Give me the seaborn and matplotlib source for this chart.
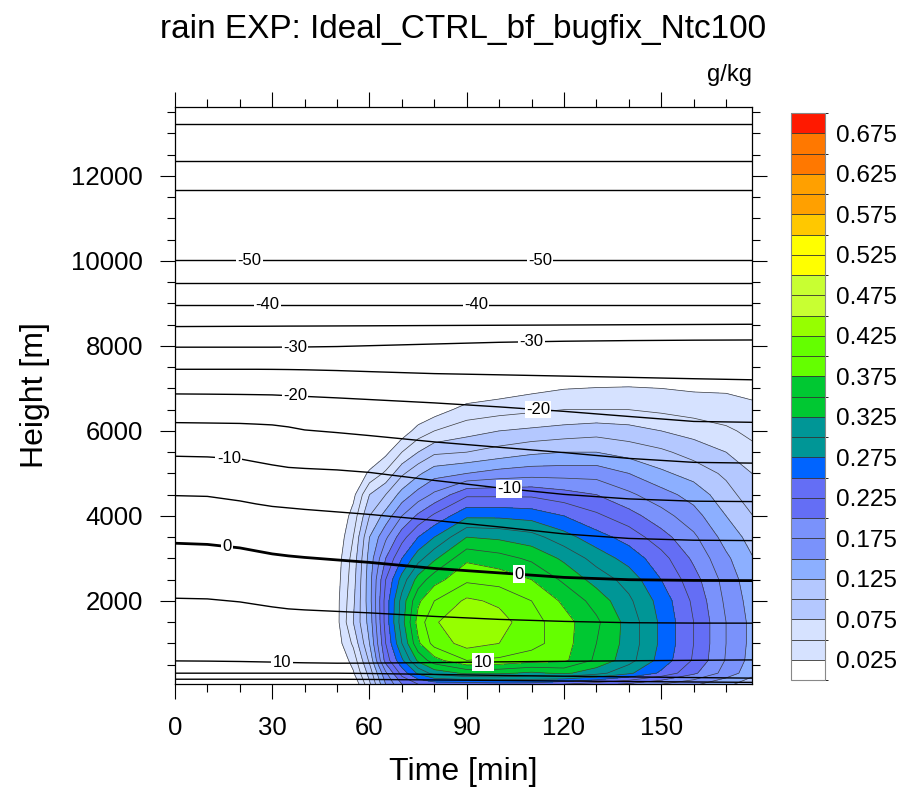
import numpy as np
import matplotlib
matplotlib.use("Agg")
import matplotlib.pyplot as plt
import seaborn as sns
from matplotlib.colors import ListedColormap, BoundaryNorm
from matplotlib.cm import ScalarMappable
from matplotlib.ticker import MultipleLocator

# ---------- STYLE ----------
sns.set_style("white")
plt.rcParams['font.family'] = ['Liberation Sans', 'DejaVu Sans']
plt.rcParams['text.color'] = 'black'
plt.rcParams['xtick.color'] = 'black'
plt.rcParams['ytick.color'] = 'black'

# ---------- RAIN MIXING RATIO (g/kg) ----------
rain_time = [0, 45, 50, 55, 60, 65, 70, 75, 80, 90, 100, 110, 120, 130, 140, 150, 160, 170, 180]
rain_height = [40, 300, 600, 1000, 1500, 2000, 2500, 3000, 3500, 4000, 4500,
               5000, 5500, 6000, 6500, 7000, 7500, 13600]
rain_qr = [
    [0, 0, 0, 0, 0.07, 0.15, 0.2, 0.225, 0.235, 0.235, 0.24, 0.24, 0.225, 0.21, 0.195, 0.175, 0.155, 0.13, 0.11],
    [0, 0, 0, 0.022, 0.085, 0.17, 0.235, 0.28, 0.31, 0.33, 0.33, 0.32, 0.33, 0.31, 0.28, 0.245, 0.205, 0.165, 0.127],
    [0, 0, 0, 0.035, 0.105, 0.21, 0.27, 0.33, 0.365, 0.4, 0.395, 0.385, 0.38, 0.345, 0.31, 0.265, 0.222, 0.173, 0.133],
    [0, 0, 0.012, 0.055, 0.125, 0.225, 0.3, 0.37, 0.41, 0.435, 0.425, 0.41, 0.385, 0.35, 0.315, 0.27, 0.225, 0.175, 0.135],
    [0, 0, 0.018, 0.075, 0.135, 0.235, 0.315, 0.385, 0.422, 0.445, 0.435, 0.41, 0.385, 0.355, 0.315, 0.27, 0.225, 0.175, 0.135],
    [0, 0, 0.018, 0.07, 0.14, 0.235, 0.31, 0.37, 0.4, 0.43, 0.42, 0.4, 0.37, 0.34, 0.305, 0.265, 0.22, 0.17, 0.132],
    [0, 0, 0.015, 0.065, 0.14, 0.225, 0.285, 0.335, 0.365, 0.395, 0.39, 0.375, 0.345, 0.315, 0.29, 0.25, 0.21, 0.165, 0.127],
    [0, 0, 0.012, 0.06, 0.135, 0.2, 0.25, 0.29, 0.32, 0.37, 0.36, 0.345, 0.32, 0.29, 0.265, 0.235, 0.195, 0.155, 0.12],
    [0, 0, 0.005, 0.05, 0.125, 0.17, 0.215, 0.25, 0.275, 0.325, 0.32, 0.31, 0.285, 0.26, 0.24, 0.21, 0.18, 0.14, 0.11],
    [0, 0, 0, 0.035, 0.1, 0.135, 0.175, 0.205, 0.23, 0.27, 0.27, 0.265, 0.25, 0.23, 0.21, 0.185, 0.16, 0.125, 0.095],
    [0, 0, 0, 0.018, 0.075, 0.1, 0.135, 0.16, 0.18, 0.22, 0.22, 0.22, 0.21, 0.2, 0.18, 0.16, 0.14, 0.11, 0.08],
    [0, 0, 0, 0, 0.03, 0.055, 0.095, 0.12, 0.14, 0.15, 0.16, 0.165, 0.165, 0.165, 0.15, 0.13, 0.115, 0.095, 0.07],
    [0, 0, 0, 0, 0, 0.018, 0.05, 0.075, 0.095, 0.1, 0.11, 0.12, 0.125, 0.125, 0.115, 0.105, 0.09, 0.075, 0.055],
    [0, 0, 0, 0, 0, 0, 0.01, 0.035, 0.05, 0.065, 0.075, 0.08, 0.085, 0.09, 0.085, 0.075, 0.065, 0.055, 0.04],
    [0, 0, 0, 0, 0, 0, 0, 0, 0.012, 0.035, 0.04, 0.045, 0.05, 0.05, 0.05, 0.045, 0.04, 0.035, 0.028],
    [0, 0, 0, 0, 0, 0, 0, 0, 0, 0, 0.01, 0.018, 0.024, 0.026, 0.027, 0.025, 0.022, 0.022, 0.02],
    [0] * 19,
    [0] * 19,
]

# ---------- ISOTHERMS (deg C): height in m at each time ----------
iso_time = [0, 10, 20, 25, 30, 35, 40, 50, 60, 80, 100, 120, 140, 160, 180]
iso_temp = [-65, -60, -55, -50, -45, -40, -35, -30, -25, -20, -15, -10, -5, 0, 5, 10, 15, 20]
iso_height = [
    [13220] * 15,
    [12350] * 15,
    [11670] * 15,
    [10010] * 15,
    [9490] * 15,
    [8965] * 15,
    [8455, 8458, 8461, 8462, 8464, 8466, 8467, 8470, 8473, 8480, 8486, 8492, 8498, 8504, 8510],
    [7970, 7970, 7970, 7970, 7970, 7972, 7975, 7985, 8005, 8045, 8085, 8110, 8125, 8135, 8140],
    [7450, 7450, 7450, 7450, 7448, 7444, 7438, 7420, 7395, 7348, 7320, 7290, 7260, 7228, 7200],
    [6870, 6865, 6858, 6853, 6847, 6830, 6812, 6777, 6738, 6659, 6565, 6460, 6340, 6223, 6200],
    [6195, 6186, 6176, 6160, 6141, 6094, 6023, 5960, 5890, 5741, 5615, 5490, 5353, 5260, 5240],
    [5404, 5388, 5341, 5270, 5200, 5141, 5117, 5082, 5023, 4835, 4659, 4506, 4400, 4346, 4336],
    [4477, 4459, 4353, 4282, 4223, 4188, 4153, 4094, 4035, 3894, 3741, 3576, 3470, 3428, 3418],
    [3357, 3329, 3247, 3176, 3106, 3059, 3023, 2964, 2906, 2764, 2659, 2553, 2499, 2482, 2477],
    [2063, 2047, 1976, 1917, 1859, 1812, 1788, 1753, 1718, 1635, 1565, 1518, 1487, 1478, 1476],
    [588, 583, 574, 567, 560, 550, 543, 534, 536, 548, 565, 579, 591, 602, 612],
    [299, 299, 299, 299, 299, 299, 299, 299, 292, 270, 246, 228, 212, 196, 181],
    [157, 157, 157, 157, 157, 157, 157, 157, 152, 140, 128, 115, 103, 92, 82],
]

# where the isotherm labels sit (temperature, time in min)
label_temp = [-50, -50, -40, -40, -30, -30, -20, -20, -10, -10, 0, 0, 10, 10]
label_time = [23, 112.6, 28.6, 92.9, 37, 110, 37, 112, 16.6, 103, 16, 106, 33, 95]

# ---------- COLOUR TABLE ----------
rain_colors = [
    '#ffffff', '#d6e2ff', '#d6e2ff', '#b4c8ff', '#b4c8ff', '#8cafff', '#7a92fb',
    '#7a92fb', '#646ef5', '#646ef5', '#0064ff', '#009696', '#009696', '#00c832',
    '#00c832', '#64ff00', '#64ff00', '#96ff00', '#c8ff32', '#c8ff32', '#ffff00',
    '#ffff00', '#ffc800', '#ffa000', '#ffa000', '#ff7800', '#ff7800', '#ff1900',
]
bounds = np.round(np.arange(0, 0.7001, 0.025), 3)
cmap = ListedColormap(rain_colors)
norm = BoundaryNorm(bounds, len(rain_colors))

# ============================================
# PLOT
# ============================================
fig = plt.figure(figsize=(9.2, 7.91), dpi=100)
ax = fig.add_axes([0.1902, 0.1353, 0.6272, 0.7288])
cax = fig.add_axes([0.8598, 0.1403, 0.037, 0.7168])

T, Z = np.meshgrid(rain_time, rain_height)
Q = np.array(rain_qr)

ax.contourf(T, Z, Q, levels=bounds[1:], cmap=cmap, norm=norm)
ax.contour(T, Z, Q, levels=bounds[1:-1], colors='#3c3c3c', linewidths=0.5)

# ---------- ISOTHERMS ----------
for temp, heights in zip(iso_temp, iso_height):
    sns.lineplot(x=iso_time, y=heights, ax=ax, color='black',
                 linewidth=2.0 if temp == 0 else 1.0,
                 sort=False, estimator=None, zorder=3)

for temp, t in zip(label_temp, label_time):
    z = np.interp(t, iso_time, iso_height[iso_temp.index(temp)])
    ax.text(t, z, str(temp), ha='center', va='center', fontsize=12, zorder=5,
            bbox=dict(facecolor='white', edgecolor='none', pad=1.0))

# ---------- AXES ----------
ax.set_xlim(0, 178)
ax.set_ylim(45, 13610)
ax.set_xticks([0, 30, 60, 90, 120, 150])
ax.set_yticks([2000, 4000, 6000, 8000, 10000, 12000])
ax.xaxis.set_minor_locator(MultipleLocator(10))
ax.yaxis.set_minor_locator(MultipleLocator(500))
ax.tick_params(which='both', direction='out', top=True, right=True,
               bottom=True, left=True, labeltop=False, labelright=False,
               color='black', width=0.8)
ax.tick_params(which='major', length=11, pad=12, labelsize=18.5)
ax.tick_params(which='minor', length=6)
for sp in ax.spines.values():
    sp.set_color('black')
    sp.set_linewidth(0.9)

ax.set_xlabel('')
ax.set_ylabel('')
fig.text(0.5038, 0.024, 'Time [min]', ha='center', va='center', fontsize=23)
fig.text(0.038, 0.5006, 'Height [m]', ha='center', va='center', fontsize=23,
         rotation=90)
fig.text(0.5038, 0.963, 'rain EXP: Ideal_CTRL_bf_bugfix_Ntc100',
         ha='center', va='center', fontsize=24)
fig.text(0.8174, 0.905, 'g/kg', ha='right', va='center', fontsize=17)

# ---------- COLORBAR ----------
cb = fig.colorbar(ScalarMappable(norm=norm, cmap=cmap), cax=cax,
                  ticks=bounds[1::2], drawedges=True)
cb.ax.set_yticklabels([f"{v:.3f}" for v in bounds[1::2]])
cb.ax.tick_params(length=0, labelsize=17.5, pad=8)
cb.outline.set_edgecolor('#888888')
cb.outline.set_linewidth(0.8)
cb.dividers.set_color('#333333')
cb.dividers.set_linewidth(0.6)

plt.savefig('out.png', dpi=100)
